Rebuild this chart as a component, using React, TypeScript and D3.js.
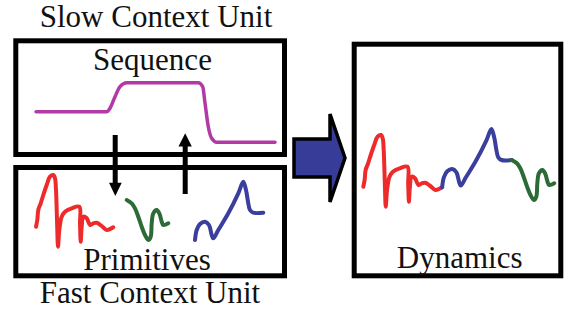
import React from "react";
import * as d3 from "d3";

const W = 564;
const H = 310;

// Sequence (slow context) curve: [time, level]
const sequenceCurve: [number, number][] = [
  [36, 0], [106.7, 0], [110, 3.4], [115, 15], [120, 25], [126.7, 29], [198.3, 29],
  [202.7, 25], [205, 8.7], [208.3, -15], [211.7, -26.6], [216.7, -30.6], [275, -30.6],
];

// Primitives: [time, amplitude]
const redPrimitive: [number, number][] = [
  [0, 23.3], [1.3, 30], [2.3, 40], [4.7, 46.7], [7.3, 55], [10.7, 65], [14, 73.3], [17.3, 75],
  [19, 71.7], [20, 60], [20.7, 40], [21.3, 20], [22, 3.3], [23.3, 20], [25.7, 33.3], [29, 38.3],
  [35.7, 41.7], [43.3, 43.3], [44, 26.7], [44.7, 8.3], [45.7, 23.3], [47.3, 33.3], [50.7, 31.7],
  [54, 25], [57.3, 26.7], [60.7, 27.3], [65.7, 24], [70.7, 20], [77.3, 22.7],
];
const greenPrimitive: [number, number][] = [
  [0, 50], [5, 46.7], [8.3, 41.7], [11.6, 33.3], [15, 23.3], [18.3, 15], [21.6, 10], [24, 13.3],
  [25, 26.7], [26.6, 36.7], [30, 40], [32.6, 36.7], [35, 28.3], [36.6, 25], [41.6, 26.7],
];
const bluePrimitive: [number, number][] = [
  [0, 10], [1.7, 20], [5, 26], [10, 28.3], [14, 25], [16.7, 15], [18.3, 11.7], [23.3, 20],
  [33.3, 36.7], [43.3, 56.7], [48.3, 68.3], [51, 60], [53.3, 46.7], [55, 40], [58.3, 37.3], [68.3, 37.3],
];

const primitiveStarts = [36, 126.7, 195]; // time offsets in the primitives panel
const dynamicsOrder = ["red", "blue", "green"];

const COLORS: Record<string, string> = {
  red: "#ee2b2b",
  green: "#2c6a36",
  blue: "#3a3f9e",
  seq: "#b23aa5",
  arrow: "#383c99",
};

export default function App() {
  const curves: Record<string, [number, number][]> = {
    red: redPrimitive,
    green: greenPrimitive,
    blue: bluePrimitive,
  };

  const seqX = d3.scaleLinear().domain([0, 100]).range([0, 100]);
  const seqY = d3.scaleLinear().domain([0, 100]).range([111.7, 11.7]);
  const seqLine = d3
    .line<[number, number]>()
    .x((d) => seqX(d[0]))
    .y((d) => seqY(d[1]))
    .curve(d3.curveMonotoneX);

  const primY = d3.scaleLinear().domain([0, 100]).range([250, 150]);
  const primLines = ["red", "green", "blue"].map((k, i) => {
    const x = d3.scaleLinear().domain([0, 100]).range([primitiveStarts[i], primitiveStarts[i] + 100]);
    const line = d3
      .line<[number, number]>()
      .x((d) => x(d[0]))
      .y((d) => primY(d[1]))
      .curve(d3.curveCatmullRom.alpha(0.5));
    return { k, d: line(curves[k]) || "" };
  });

  const dynLines: { k: string; d: string }[] = [];
  let cx = 363.3;
  let cy = 186.7;
  const sx = 1.02;
  dynamicsOrder.forEach((k) => {
    const data = curves[k];
    const first = data[0];
    const last = data[data.length - 1];
    const x = d3.scaleLinear().domain([0, 100]).range([cx, cx + 100 * sx]);
    const y = d3.scaleLinear().domain([first[1], first[1] + 100]).range([cy, cy - 100]);
    const line = d3
      .line<[number, number]>()
      .x((d) => x(d[0]))
      .y((d) => y(d[1]))
      .curve(d3.curveCatmullRom.alpha(0.5));
    dynLines.push({ k, d: line(data) || "" });
    cx = x(last[0]);
    cy = y(last[1]);
  });

  const textStyle: React.CSSProperties = {
    fontFamily: '"Liberation Serif", "Times New Roman", Times, serif',
    fontSize: "31px",
    fill: "#111",
  };

  return (
    <svg
      width={W}
      height={H}
      viewBox={`0 0 ${W} ${H}`}
      style={{ position: "absolute", left: 0, top: 0, background: "#fff" }}
    >
      <rect x={0} y={0} width={W} height={H} fill="#fff" />
      <rect x={15.8} y={40.8} width={268.7} height={113.7} fill="none" stroke="#000" strokeWidth={5} />
      <rect x={15.8} y={167.5} width={268.7} height={108.3} fill="none" stroke="#000" strokeWidth={5} />
      <rect x={354.2} y={44.2} width={206.6} height={231.6} fill="none" stroke="#000" strokeWidth={5} />

      <text x={156} y={27} textAnchor="middle" style={textStyle}>Slow Context Unit</text>
      <text x={152.5} y={70} textAnchor="middle" style={textStyle}>Sequence</text>
      <text x={147} y={270} textAnchor="middle" style={textStyle}>Primitives</text>
      <text x={150} y={303} textAnchor="middle" style={textStyle}>Fast Context Unit</text>
      <text x={459.7} y={268.3} textAnchor="middle" style={textStyle}>Dynamics</text>

      <path d={seqLine(sequenceCurve) || ""} fill="none" stroke={COLORS.seq} strokeWidth={3.5} strokeLinecap="round" />

      <line x1={115.2} y1={135} x2={115.2} y2={184} stroke="#000" strokeWidth={5} />
      <polygon points="109,182.7 121.7,182.7 115.3,196" fill="#000" />
      <line x1={185.2} y1={194} x2={185.2} y2={145} stroke="#000" strokeWidth={5} />
      <polygon points="178.5,146.5 191.8,146.5 185.2,133.3" fill="#000" />

      {primLines.map((p) => (
        <path key={p.k} d={p.d} fill="none" stroke={COLORS[p.k]} strokeWidth={4} strokeLinecap="round" strokeLinejoin="round" />
      ))}

      {dynLines.map((p) => (
        <path key={p.k} d={p.d} fill="none" stroke={COLORS[p.k]} strokeWidth={4} strokeLinecap="round" strokeLinejoin="round" />
      ))}

      <polygon
        points="294,139 330,139 330,114 345,158 330,202 330,177 294,177"
        fill={COLORS.arrow}
        stroke="#000"
        strokeWidth={3.5}
        strokeLinejoin="miter"
      />
    </svg>
  );
}
